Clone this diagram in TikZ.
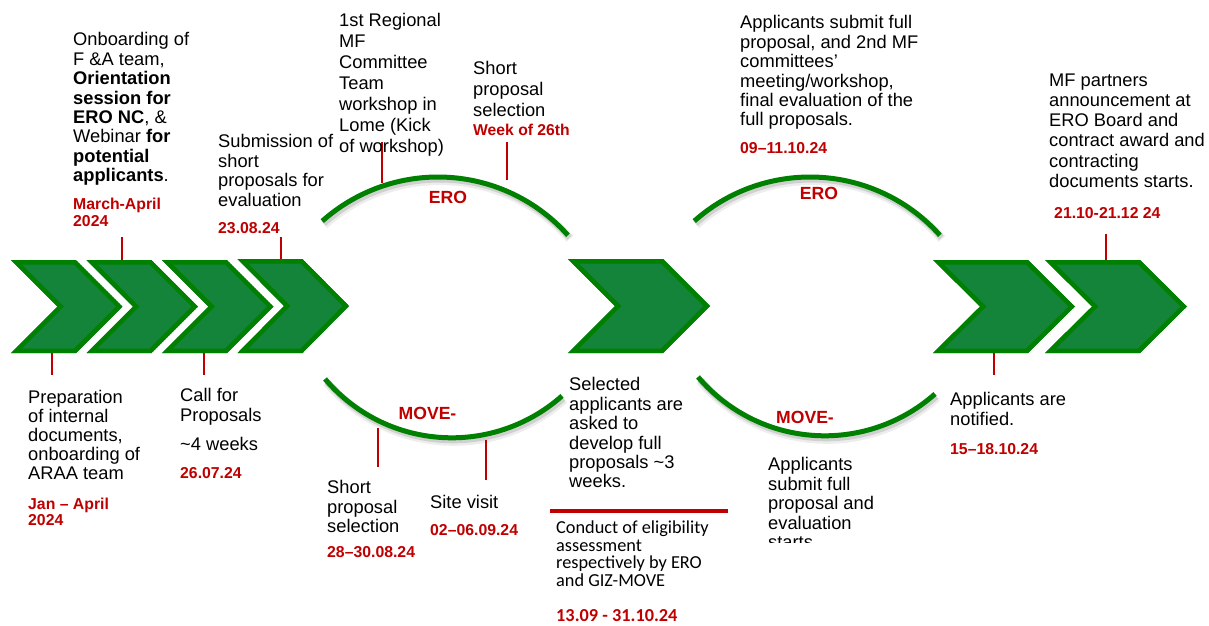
\documentclass[tikz,border=0pt]{standalone}
\usepackage{fontspec}
\setmainfont{Liberation Sans}
\newfontfamily\calfont{Carlito}
\definecolor{dred}{HTML}{C00000}
\definecolor{chevfill}{HTML}{13843A}
\definecolor{chevline}{HTML}{008000}
\newcommand\mychev[5]{%
  \begin{scope}
  \clip (#1,#2) -- ({#1+#4},#2) -- ({#1+#5},{(#2+#3)/2}) -- ({#1+#4},#3) -- (#1,#3) -- ({#1+#5-#4},{(#2+#3)/2}) -- cycle;
  \path[fill=chevfill, draw=chevline, line width=9pt] (#1,#2) -- ({#1+#4},#2) -- ({#1+#5},{(#2+#3)/2}) -- ({#1+#4},#3) -- (#1,#3) -- ({#1+#5-#4},{(#2+#3)/2}) -- cycle;
  \end{scope}}
\newcommand\myarc[5]{% cx, cy, r, a1, a2
  \draw[black, opacity=0.07, line width=9pt, shift={(2,3.5)}] plot[domain=#4:#5, samples=60, smooth] ({#1+#3*cos(\x)},{#2+#3*sin(\x)});
  \draw[black, opacity=0.12, line width=6pt, shift={(1.5,2.5)}] plot[domain=#4:#5, samples=60, smooth] ({#1+#3*cos(\x)},{#2+#3*sin(\x)});
  \draw[arcline] plot[domain=#4:#5, samples=60, smooth] ({#1+#3*cos(\x)},{#2+#3*sin(\x)});}
\begin{document}
\begin{tikzpicture}[x=1pt, y=-1pt,
  txt/.style={font=\fontsize{18.3}{19.4}\selectfont, align=left, anchor=north west, inner sep=0pt, text=black},
  dt/.style={txt, text=dred, font=\bfseries\fontsize{15.8}{17}\selectfont},
  lbl/.style={text=dred, font=\bfseries\fontsize{17.6}{19}\selectfont, inner sep=0pt},
  redtick/.style={draw=dred, line width=2pt},
  arcline/.style={draw=chevline, line width=5pt}]
\useasboundingbox[fill=white] (0,0) rectangle (1209,625);

% chevrons
\mychev{11}{260}{353}{65}{111.5}
\mychev{86.5}{260}{353}{65}{111.5}
\mychev{162}{260}{353}{65}{111.5}
\mychev{237.5}{259}{353}{65}{111.5}
\mychev{568}{259}{353}{95}{142}
\mychev{933}{260}{353}{95}{142}
\mychev{1045}{260}{353}{95}{142}

% arcs
\myarc{438}{351}{174}{-131.7}{-41.7}
\myarc{451.8}{271.8}{166}{139.8}{48.4}
\myarc{810}{351}{174}{-131.7}{-41.7}
\myarc{824.8}{269.8}{166}{139.8}{48.4}

\node[lbl] (ero1) at (448,197) {ERO};
\node[lbl] (ero2) at (819,193) {ERO};
\node[lbl] (mv1) at (427.5,413) {MOVE-};
\node[lbl] (mv2) at (805,417) {MOVE-};

% ticks
\draw[redtick] (122,237) -- (122,260);
\draw[redtick] (281,237) -- (281,259);
\draw[redtick] (52,353) -- (52,375);
\draw[redtick] (204,353) -- (204,375);
\draw[redtick] (382,142) -- (382,183);
\draw[redtick] (507,142) -- (507,180);
\draw[redtick] (378,428) -- (378,467);
\draw[redtick] (486,440) -- (486,480);
\draw[redtick] (1106,234) -- (1106,260);
\draw[redtick] (994,353) -- (994,375);

% top texts
\node[txt] (onb) at (73,32.5) {Onboarding of\\F \&A team,\\\textbf{Orientation}\\\textbf{session for}\\\textbf{ERO NC}, \&\\Webinar \textbf{for}\\\textbf{potential}\\\textbf{applicants}.};
\node[dt] (d1) at (73,197.5) {March-April\\2024};
\node[txt] (sub) at (218,134.5) {Submission of\\short\\proposals for\\evaluation};
\node[dt] (d2) at (218,222.5) {23.08.24};
\node[txt, font=\fontsize{18.3}{21}\selectfont] (reg) at (339,13.5) {1st Regional\\MF\\Committee\\Team\\workshop in\\Lome (Kick\\of workshop)};
\node[txt, font=\fontsize{18.3}{21}\selectfont] (sps) at (473,61.5) {Short\\proposal\\selection};
\node[dt, font=\bfseries\fontsize{15.7}{17}\selectfont] (d3) at (473,123.5) {Week of 26th};
\node[txt] (app) at (740,15.5) {Applicants submit full\\proposal, and 2nd MF\\committees’\\meeting/workshop,\\final evaluation of the\\full proposals.};
\node[dt] (d4) at (740,142.5) {09–11.10.24};
\node[txt, font=\fontsize{18.3}{20.2}\selectfont] (mfp) at (1049,73.5) {MF partners\\announcement at\\ERO Board and\\contract award and\\contracting\\documents starts.};
\node[dt] (d5) at (1054,207.5) {21.10-21.12 24};

% bottom texts
\node[txt, font=\fontsize{18.3}{19}\selectfont] (prep) at (28,390.5) {Preparation\\of internal\\documents,\\onboarding of\\ARAA team};
\node[dt, font=\bfseries\fontsize{15.8}{16.5}\selectfont] (d6) at (28,497.5) {Jan – April\\2024};
\node[txt] (cfp) at (180,388.5) {Call for\\Proposals};
\node[txt] (wk) at (180,437.5) {\textasciitilde4 weeks};
\node[dt] (d7) at (180,467.5) {26.07.24};
\node[txt, font=\fontsize{18.3}{19.2}\selectfont] (sps2) at (327,480.5) {Short\\proposal\\selection};
\node[dt] (d8) at (327,546.5) {28–30.08.24};
\node[txt] (site) at (430,495.5) {Site visit};
\node[dt] (d9) at (430,524.5) {02–06.09.24};
\node[txt] (sel) at (569,377.5) {Selected\\applicants are\\asked to\\develop full\\proposals \textasciitilde3\\weeks.};
\draw[draw=dred, line width=4pt] (550,511) -- (728,511);
\node[txt, font=\calfont\fontsize{18.3}{17.7}\selectfont] (cond) at (556,520.5) {Conduct of eligibility\\assessment\\respectively by ERO\\and GIZ-MOVE};
\node[txt, text=dred, font=\calfont\bfseries\fontsize{18.3}{19}\selectfont] (d10) at (556,609.5) {13.09 - 31.10.24};
\begin{scope}
\clip (700,440) rectangle (950,542);
\node[txt] (asf) at (768,457.5) {Applicants\\submit full\\proposal and\\evaluation\\starts};
\end{scope}
\node[txt] (notif) at (950,392.5) {Applicants are\\notified.};
\node[dt] (d11) at (950,443.5) {15–18.10.24};
\end{tikzpicture}
\end{document}
